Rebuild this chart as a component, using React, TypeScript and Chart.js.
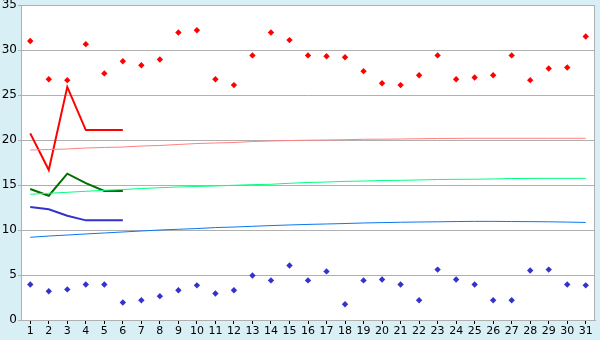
import React, { useEffect, useRef } from 'react';
import { Chart, registerables } from 'chart.js';
Chart.register(...registerables);

const days = ['1','2','3','4','5','6','7','8','9','10','11','12','13','14','15','16','17','18','19','20','21','22','23','24','25','26','27','28','29','30','31'];

const highPoints = [31.0, 26.75, 26.65, 30.65, 27.4, 28.75, 28.3, 28.95, 31.95, 32.2, 26.75, 26.1, 29.4, 31.95, 31.1, 29.4, 29.3, 29.2, 27.65, 26.3, 26.1, 27.2, 29.4, 26.75, 26.95, 27.2, 29.4, 26.65, 27.95, 28.05, 31.5];
const lowPoints = [3.95, 3.2, 3.4, 3.95, 3.95, 1.95, 2.2, 2.65, 3.3, 3.85, 2.95, 3.3, 4.95, 4.4, 6.05, 4.4, 5.4, 1.75, 4.4, 4.5, 3.95, 2.2, 5.6, 4.5, 3.95, 2.2, 2.2, 5.5, 5.6, 3.95, 3.85];

const redLine = [20.74, 16.67, 25.9, 21.1, 21.1, 21.1, null, null, null, null, null, null, null, null, null, null, null, null, null, null, null, null, null, null, null, null, null, null, null, null, null];
const greenLine = [14.56, 13.81, 16.26, 15.2, 14.33, 14.33, null, null, null, null, null, null, null, null, null, null, null, null, null, null, null, null, null, null, null, null, null, null, null, null, null];
const blueLine = [12.56, 12.3, 11.59, 11.07, 11.07, 11.07, null, null, null, null, null, null, null, null, null, null, null, null, null, null, null, null, null, null, null, null, null, null, null, null, null];

const pinkTrend = [18.89, 18.94, 19.0, 19.11, 19.17, 19.22, 19.33, 19.39, 19.5, 19.61, 19.67, 19.72, 19.83, 19.89, 19.94, 19.98, 20.0, 20.03, 20.08, 20.09, 20.11, 20.14, 20.17, 20.18, 20.19, 20.19, 20.19, 20.19, 20.19, 20.19, 20.19];
const greenTrend = [13.97, 14.08, 14.19, 14.3, 14.41, 14.5, 14.61, 14.7, 14.78, 14.84, 14.89, 14.97, 15.04, 15.08, 15.19, 15.28, 15.33, 15.4, 15.44, 15.5, 15.52, 15.56, 15.61, 15.63, 15.64, 15.67, 15.72, 15.73, 15.74, 15.74, 15.74];
const blueTrend = [9.19, 9.33, 9.44, 9.56, 9.67, 9.78, 9.89, 10.0, 10.08, 10.16, 10.27, 10.33, 10.41, 10.49, 10.56, 10.62, 10.67, 10.72, 10.78, 10.82, 10.86, 10.89, 10.91, 10.94, 10.96, 10.96, 10.94, 10.93, 10.91, 10.88, 10.84];

const yTicks = [0, 5, 10, 15, 20, 25, 30, 35];

const BG = '#d9eff6';
const GRID = '#b0b0b0';

const framePlugin = {
  id: 'frame',
  beforeDraw(chart: any) {
    const { ctx, chartArea: a, width, height } = chart;
    ctx.save();
    ctx.fillStyle = BG;
    ctx.fillRect(0, 0, width, height);
    ctx.fillStyle = '#ffffff';
    ctx.fillRect(a.left, a.top, a.right - a.left, a.bottom - a.top);
    ctx.restore();
  },
  beforeDatasetsDraw(chart: any) {
    const { ctx, chartArea: a } = chart;
    ctx.save();
    ctx.strokeStyle = GRID;
    ctx.lineWidth = 1;
    ctx.beginPath();
    ctx.moveTo(Math.round(a.left) + 0.5, Math.round(a.top) + 0.5);
    ctx.lineTo(Math.round(a.right) - 0.5, Math.round(a.top) + 0.5);
    ctx.lineTo(Math.round(a.right) - 0.5, Math.round(a.bottom) + 0.5);
    ctx.stroke();
    ctx.restore();
  },
};

const pointDs = (data: number[], color: string) => ({
  type: 'line' as const,
  data,
  showLine: false,
  pointStyle: 'rectRot',
  pointRadius: 3.2,
  pointBackgroundColor: color,
  pointBorderColor: color,
  pointBorderWidth: 0,
  borderColor: color,
  backgroundColor: color,
});

const lineDs = (data: (number | null)[], color: string, width: number) => ({
  type: 'line' as const,
  data,
  borderColor: color,
  backgroundColor: color,
  borderWidth: width,
  pointRadius: 0,
  tension: 0,
  spanGaps: false,
});

export default function App() {
  const ref = useRef<HTMLCanvasElement | null>(null);
  useEffect(() => {
    document.body.style.margin = '0';
    const chart = new Chart(ref.current as HTMLCanvasElement, {
      type: 'line',
      data: {
        labels: days,
        datasets: [
          lineDs(pinkTrend, '#ff8080', 1),
          lineDs(greenTrend, '#00ff80', 1),
          lineDs(blueTrend, '#0a78f0', 1),
          lineDs(redLine, '#ff0000', 2),
          lineDs(greenLine, '#006e00', 2),
          lineDs(blueLine, '#3333cc', 2),
          pointDs(highPoints, '#ff0000'),
          pointDs(lowPoints, '#3333cc'),
        ] as any,
      },
      plugins: [framePlugin],
      options: {
        animation: false,
        responsive: false,
        maintainAspectRatio: false,
        events: [],
        layout: { padding: { left: 0, top: 5, right: 5, bottom: 0 } },
        plugins: { legend: { display: false }, tooltip: { enabled: false } },
        scales: {
          x: {
            type: 'category',
            offset: true,
            grid: {
              offset: false,
              drawOnChartArea: false,
              drawTicks: true,
              tickLength: 4,
              color: '#000000',
            },
            border: { display: true, color: GRID, width: 1 },
            ticks: {
              color: '#000000',
              font: { family: 'DejaVu Sans', size: 11 },
              padding: 1,
              maxRotation: 0,
              autoSkip: false,
            },
            afterFit(scale: any) {
              scale.height = 20;
              scale.paddingLeft = 0;
              scale.paddingRight = 0;
            },
          },
          y: {
            min: 0,
            max: 35,
            afterBuildTicks(scale: any) {
              scale.ticks = yTicks.map((v) => ({ value: v }));
            },
            grid: {
              color: GRID,
              lineWidth: 1,
              drawTicks: true,
              tickLength: 3,
            },
            border: { display: true, color: GRID, width: 1 },
            ticks: {
              color: '#000000',
              font: { family: 'DejaVu Sans', size: 12 },
              padding: 1,
            },
            afterFit(scale: any) {
              scale.width = 21;
              scale.paddingTop = 0;
              scale.paddingBottom = 0;
            },
          },
        },
      },
    });
    return () => chart.destroy();
  }, []);
  return (
    <div style={{ position: 'absolute', left: 0, top: 0, width: 600, height: 340 }}>
      <canvas ref={ref} width={600} height={340} style={{ width: 600, height: 340, display: 'block' }} />
    </div>
  );
}
